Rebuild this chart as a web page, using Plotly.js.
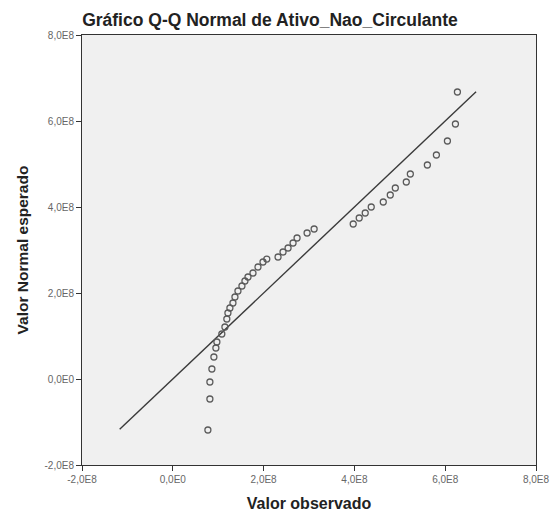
<!DOCTYPE html>
<html>
<head>
<meta charset="utf-8">
<script src="https://cdn.plot.ly/plotly-3.0.1.min.js"></script>
<style>html,body{margin:0;padding:0;background:#fff;}#chart{width:551px;height:512px;}</style>
</head>
<body>
<div id="chart"></div>
<script>
// Observed values (x) and expected normal values (y), in units of 1e8
var observed = [0.773, 0.817, 0.817, 0.861, 0.905, 0.949, 0.971, 1.08, 1.148, 1.19, 1.214, 1.258, 1.325, 1.369, 1.435, 1.523, 1.589, 1.656, 1.766, 1.876, 1.987, 2.07, 2.318, 2.428, 2.539, 2.649, 2.737, 2.958, 3.113, 3.974, 4.106, 4.238, 4.371, 4.636, 4.790, 4.901, 5.143, 5.232, 5.607, 5.806, 6.049, 6.225, 6.269];
var expected = [-1.186, -0.465, -0.070, 0.233, 0.512, 0.721, 0.860, 1.047, 1.209, 1.395, 1.535, 1.651, 1.767, 1.907, 2.047, 2.163, 2.279, 2.372, 2.465, 2.605, 2.721, 2.79, 2.837, 2.953, 3.047, 3.163, 3.279, 3.395, 3.488, 3.605, 3.744, 3.860, 4.0, 4.116, 4.279, 4.442, 4.581, 4.767, 4.977, 5.209, 5.535, 5.930, 6.674];
var refLine = [-1.17, 6.68];
var tickVals = [-2, 0, 2, 4, 6, 8];
var tickText = ["-2,0E8", "0,0E0", "2,0E8", "4,0E8", "6,0E8", "8,0E8"];
var scale = 1e8;

var xs = observed.map(function(v){return v*scale;});
var ys = expected.map(function(v){return v*scale;});
var lx = refLine.map(function(v){return v*scale;});
var tv = tickVals.map(function(v){return v*scale;});

var traces = [
  {x: lx, y: lx, mode: 'lines', type: 'scatter', line: {color: '#3a3a3a', width: 1.4}, hoverinfo: 'skip'},
  {x: xs, y: ys, mode: 'markers', type: 'scatter',
   marker: {symbol: 'circle-open', size: 6, color: '#5a5a5a', line: {width: 1.3, color: '#5a5a5a'}}}
];

var FONT = 'Liberation Sans, Arial, sans-serif';
var axisCommon = {
  tickmode: 'array', tickvals: tv, ticktext: tickText,
  ticks: 'outside', ticklen: 5, tickwidth: 1, tickcolor: '#333',
  showline: true, linecolor: '#333', linewidth: 1, mirror: true,
  showgrid: false, zeroline: false,
  tickfont: {family: FONT, size: 10, color: '#666'}
};

var layout = {
  width: 551, height: 512,
  margin: {l: 82, r: 15, t: 35, b: 47},
  paper_bgcolor: '#ffffff', plot_bgcolor: '#f0f0f0',
  showlegend: false,
  title: {text: '<b>Gráfico Q-Q Normal de Ativo_Nao_Circulante</b>',
          font: {family: FONT, size: 17.5, color: '#222'},
          xref: 'container', x: 0.49, xanchor: 'center', yref: 'container', y: 0.962, yanchor: 'middle'},
  xaxis: Object.assign({}, axisCommon, {range: [-2e8, 8e8],
    title: {text: '<b>Valor observado</b>', standoff: 13, font: {family: FONT, size: 16, color: '#222'}}}),
  yaxis: Object.assign({}, axisCommon, {range: [-2e8, 8e8],
    title: {text: '<b>Valor Normal esperado</b>', standoff: 12, font: {family: FONT, size: 15.5, color: '#222'}}})
};

Plotly.newPlot('chart', traces, layout, {displayModeBar: false, staticPlot: true});
</script>
</body>
</html>
